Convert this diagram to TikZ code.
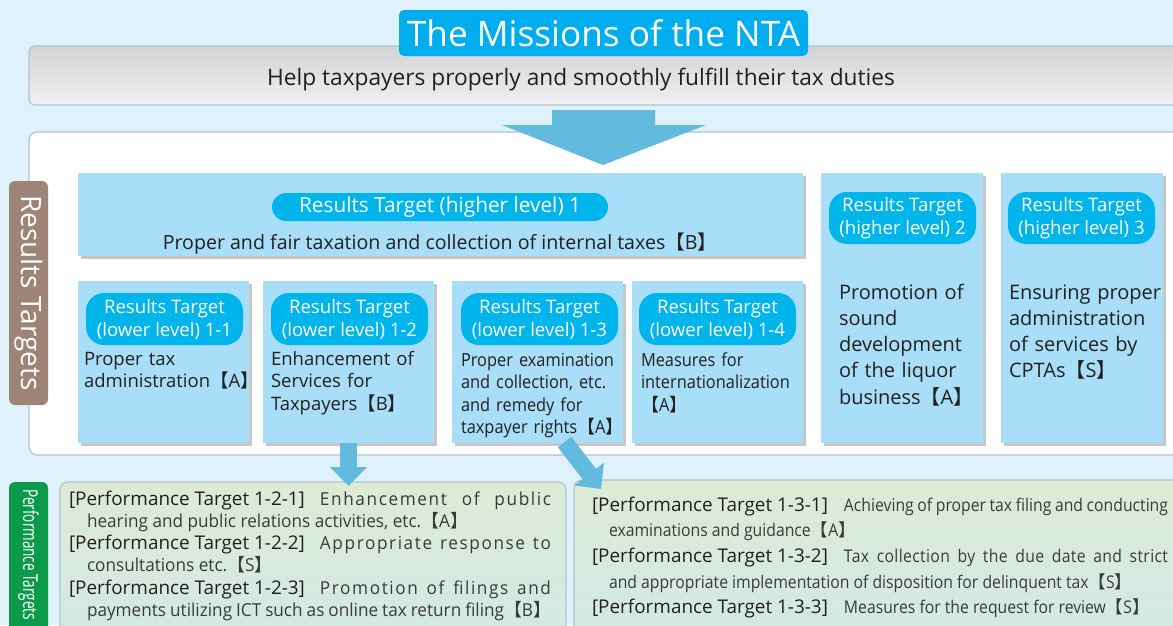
\documentclass[tikz,border=0pt]{standalone}
\usepackage{fontspec}
\setmainfont{Open Sans}
\newfontfamily\condfont[FakeStretch=0.91]{Open Sans}
\newfontfamily\desccond[FakeStretch=0.9]{Open Sans}
\newfontfamily\desccondsp[FakeStretch=0.9,LetterSpace=2]{Open Sans}
\newfontfamily\descleft[FakeStretch=0.96]{Open Sans}
\newfontfamily\descspaced[FakeStretch=0.96,LetterSpace=9]{Open Sans}
\newfontfamily\narrowfont[FakeStretch=0.66]{Open Sans}
\newfontfamily\cjkfont{Noto Sans CJK JP}
\usetikzlibrary{shadows,arrows.meta,calc}
\newcommand\lent[1]{{\cjkfont 【}#1{\cjkfont 】}}
\definecolor{bgblue}{HTML}{DFF1FA}
\definecolor{boxblue}{HTML}{A8DEF8}
\definecolor{pillblue}{HTML}{00B4EC}
\definecolor{titleblue}{HTML}{00ADEF}
\definecolor{arrowblue}{HTML}{62BADF}
\definecolor{txt}{HTML}{231F20}
\definecolor{desctxt}{HTML}{3A3A3A}
\definecolor{brownlab}{HTML}{9D8477}
\definecolor{greenlab}{HTML}{0A9A4A}
\definecolor{greytop}{HTML}{D3D4D6}
\definecolor{greybot}{HTML}{F0F0F2}
\definecolor{greentop}{HTML}{DDEBD5}
\definecolor{greenbot}{HTML}{D3E8E7}
\definecolor{edge}{HTML}{AFC4CF}
\begin{document}
\begin{tikzpicture}[x=1pt,y=-1pt,
  every node/.style={inner sep=0pt, outer sep=0pt, text=txt},
  softshadow/.style={drop shadow={shadow xshift=2.5pt, shadow yshift=-2.5pt, opacity=0.22, fill=black}},
  bluebox/.style={fill=boxblue, anchor=north west, softshadow},
  pill/.style={fill=pillblue, rounded corners=18pt, text=white, align=center,
    font=\fontsize{18.6}{23}\selectfont},
  boxtext/.style={anchor=base west, text width=165pt, align=left, font=\fontsize{18.5}{22.5}\selectfont},
  condtext/.style={anchor=base west, text width=165pt, align=left, font=\condfont\fontsize{18}{22.5}\selectfont},
  tallertext/.style={anchor=base west, text width=160pt, align=left, font=\fontsize{20}{26.3}\selectfont},
  perfbox/.style={anchor=north west, rounded corners=8pt, top color=greentop, bottom color=greenbot,
    draw=edge, line width=1.2pt},
  blockarrow/.style={draw=arrowblue, line width=17pt, -{Triangle[width=36pt,length=19pt]}, arrowblue},
]
\useasboundingbox (0,0) rectangle (1173,625);
\clip (0,0) rectangle (1173,625);
\fill[bgblue] (0,0) rectangle (1173,625);

% mission banner
\node[anchor=north west, minimum width=1170pt, minimum height=59pt, rounded corners=6pt,
  top color=greytop, bottom color=greybot, draw=edge, line width=1.2pt] (banner) at (29,46) {};
\node[font=\fontsize{22.7}{26}\selectfont] (mission) at (581,80) {Help taxpayers properly and smoothly fulfill their tax duties};
\node[fill=titleblue, rounded corners=5pt, minimum width=409pt, minimum height=46pt,
  text=white, font=\fontsize{35.2}{40}\selectfont] (title) at (603.5,33) {The Missions of the NTA};

% white panel
\node[anchor=north west, minimum width=1170pt, minimum height=323pt, rounded corners=8pt,
  fill=white, draw=edge, line width=1.2pt] (panel) at (29,132) {};

% big arrow from the mission to the targets
\fill[arrowblue] (552,110) -- (655,110) -- (655,125) -- (706,125) -- (603,165) -- (502,125) -- (552,125) -- cycle;

% side label
\node[fill=brownlab, rotate=-90, minimum width=224pt, minimum height=39pt, rounded corners=6pt,
  text=white, font=\fontsize{28}{30}\selectfont] (rtlabel) at (28.5,293) {Results Targets};

% higher level 1
\node[bluebox, minimum width=725pt, minimum height=83pt] (h1) at (78,173) {};
\node[pill, rounded corners=14pt, minimum width=336pt, minimum height=28pt, font=\fontsize{20.8}{23}\selectfont] (p1) at (440,207) {Results Target (higher level) 1};
\node[anchor=base, font=\fontsize{19.6}{22.5}\selectfont] (t1) at (440,249) {Proper and fair taxation and collection of internal taxes\lent{B}};

% lower level boxes
\node[bluebox, minimum width=171pt, minimum height=162pt] (b11) at (78,281) {};
\node[bluebox, minimum width=171pt, minimum height=162pt] (b12) at (263,281) {};
\node[bluebox, minimum width=171pt, minimum height=162pt] (b13) at (452,281) {};
\node[bluebox, minimum width=171pt, minimum height=162pt] (b14) at (632,281) {};

\node[pill, minimum width=157pt, minimum height=52pt] (p11) at (164.5,319) {Results Target\\(lower level) 1-1};
\node[pill, minimum width=157pt, minimum height=52pt] (p12) at (349.5,319) {Results Target\\(lower level) 1-2};
\node[pill, minimum width=157pt, minimum height=52pt] (p13) at (539.5,319) {Results Target\\(lower level) 1-3};
\node[pill, minimum width=157pt, minimum height=52pt] (p14) at (717.5,319) {Results Target\\(lower level) 1-4};

\node[boxtext] (t11) at (84,365) {Proper tax\\administration\lent{A}};
\node[boxtext] (t12) at (271,365) {Enhancement of\\Services for\\Taxpayers\lent{B}};
\node[condtext] (t13) at (461,366) {Proper examination\\and collection, etc.\\and remedy for\\taxpayer rights\lent{A}};
\node[condtext] (t14) at (641,366) {Measures for\\internationalization\\\lent{A}};

% higher level 2 and 3
\node[bluebox, minimum width=162pt, minimum height=270pt] (h2) at (821,173) {};
\node[bluebox, minimum width=162pt, minimum height=270pt] (h3) at (1001,173) {};
\node[pill, minimum width=147pt, minimum height=52pt] (p2) at (902.5,218) {Results Target\\(higher level) 2};
\node[pill, minimum width=147pt, minimum height=52pt] (p3) at (1081.5,218) {Results Target\\(higher level) 3};
\node[tallertext] (t2) at (839,299) {Promotion of\\sound\\development\\of the liquor\\business\lent{A}};
\node[tallertext] (t3) at (1009,299) {Ensuring proper\\administration\\of services by\\CPTAs\lent{S}};

% performance targets
\node[fill=greenlab, anchor=north west, minimum width=39pt, minimum height=170pt, rounded corners=6pt] (ptlabelbox) at (9,482) {};
\node[rotate=-90, anchor=west, text=white, font=\narrowfont\fontsize{20.5}{24}\selectfont] (ptlabel) at (28.5,489) {Performance Targets};

\node[perfbox, minimum width=506pt, minimum height=170pt] (perfL) at (60,482) {};
\node[perfbox, minimum width=640pt, minimum height=170pt] (perfR) at (574,480) {};

\node[anchor=base west, text width=482pt, align=justify, font=\fontsize{18.9}{22.3}\selectfont] (perfLtext) at (69,505) {%
\hyphenpenalty=10000 \exhyphenpenalty=10000
\hangindent=18pt\hangafter=1 \mbox{[Performance Target 1-2-1]}\hspace{15pt}{\descspaced\fontsize{17.9}{22.3}\selectfont\color{desctxt}Enhancement of public}\linebreak {\descleft\fontsize{17.9}{22.3}\selectfont\color{desctxt}hearing and public relations activities, etc.\lent{A}}\par
\hangindent=18pt\hangafter=1 \mbox{[Performance Target 1-2-2]}\hspace{15pt}{\descspaced\fontsize{17.9}{22.3}\selectfont\color{desctxt}Appropriate response to}\linebreak {\descleft\fontsize{17.9}{22.3}\selectfont\color{desctxt}consultations etc.\lent{S}}\par
\hangindent=18pt\hangafter=1 \mbox{[Performance Target 1-2-3]}\hspace{15pt}{\descspaced\fontsize{17.9}{22.3}\selectfont\color{desctxt}Promotion of filings and}\linebreak {\descleft\fontsize{17.9}{22.3}\selectfont\color{desctxt}payments utilizing ICT such as online tax return filing\lent{B}}\par};

\node[anchor=base west, text width=576pt, align=justify, font=\fontsize{18.9}{25.7}\selectfont] (perfRtext) at (592,511) {%
\hyphenpenalty=10000 \exhyphenpenalty=10000
\hangindent=17pt\hangafter=1 \mbox{[Performance Target 1-3-1]}\hspace{16pt}{\desccond\fontsize{17.5}{25.7}\selectfont\color{desctxt}Achieving of proper tax filing and conducting}\linebreak {\desccond\fontsize{17.5}{25.7}\selectfont\color{desctxt}examinations and guidance\lent{A}}\par
\hangindent=17pt\hangafter=1 \mbox{[Performance Target 1-3-2]}\hspace{16pt}{\desccondsp\fontsize{17.5}{25.7}\selectfont\color{desctxt}Tax collection by the due date and strict}\linebreak {\desccond\fontsize{17.5}{25.7}\selectfont\color{desctxt}and appropriate implementation of disposition for delinquent tax\lent{S}}\par
\hangindent=17pt\hangafter=1 \mbox{[Performance Target 1-3-3]}\hspace{16pt}{\desccond\fontsize{17.5}{25.7}\selectfont\color{desctxt}Measures for the request for review\lent{S}}\par};

% connectors
\draw[blockarrow] (b12.south) -- ($(b12.south)+(0,43)$) coordinate (a1end);
\coordinate (a2start) at ($(b13.south)+(27,-1)$);
\coordinate (a2end) at (601,489);
\draw[blockarrow] (a2start) -- (a2end);
\end{tikzpicture}
\end{document}
